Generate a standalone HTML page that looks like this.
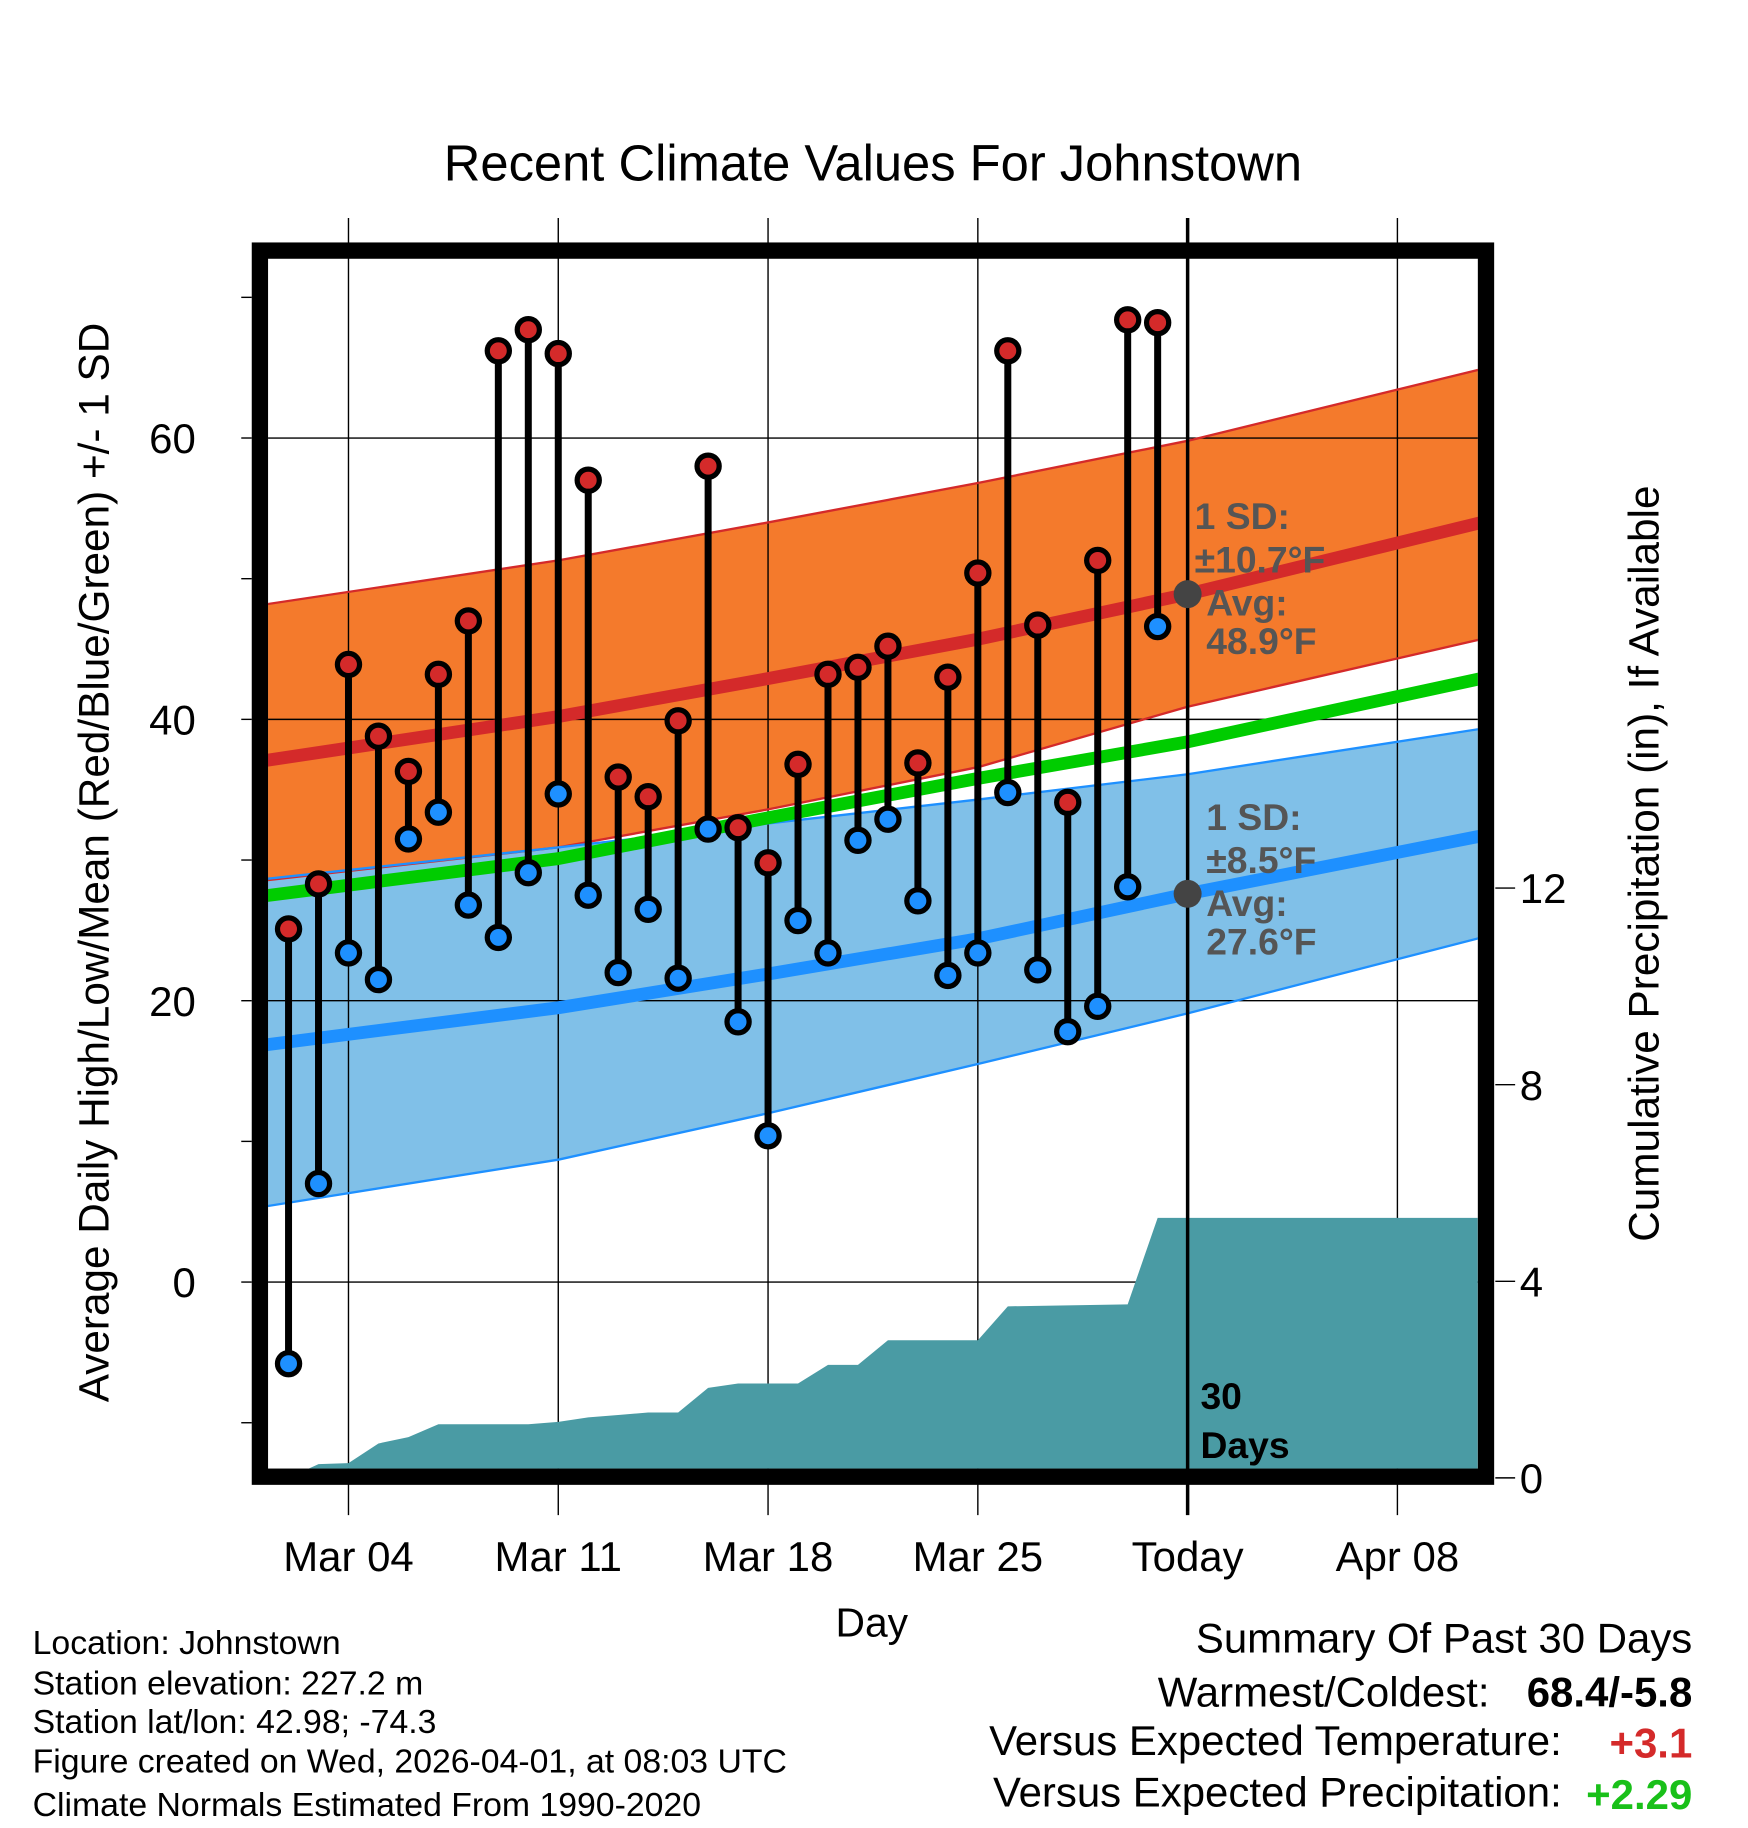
<!DOCTYPE html>
<html><head><meta charset="utf-8"><style>
html,body{margin:0;padding:0;background:#fff;}
svg{display:block;font-family:"Liberation Sans",Arial,sans-serif;}
</style></head><body>
<svg id="chart" width="1748" height="1828" viewBox="0 0 1499.8 1568.4" xmlns="http://www.w3.org/2000/svg">
<defs><clipPath id="pc"><rect x="230" y="222" width="1038" height="1038"/></clipPath></defs>
<g id="bands" clip-path="url(#pc)"></g>
<g id="grid"></g>
<g id="precip" clip-path="url(#pc)"></g>
<g id="lines" clip-path="url(#pc)"></g>
<g id="marks"></g>
<text x="749" y="155" text-anchor="middle" font-size="43.5">Recent Climate Values For Johnstown</text>
<g id="annot" font-weight="bold" font-size="32" fill="#555">
<text x="1025" y="454">1 SD:</text>
<text x="1025" y="491">±10.7°F</text>
<text x="1035" y="528">Avg:</text>
<text x="1035" y="561">48.9°F</text>
<text x="1035" y="712">1 SD:</text>
<text x="1035" y="749">±8.5°F</text>
<text x="1035" y="786">Avg:</text>
<text x="1035" y="819">27.6°F</text>
<text x="1030" y="1209" fill="#000">30</text>
<text x="1030" y="1251" fill="#000">Days</text>
</g>
<rect x="223" y="215" width="1052" height="1052" fill="none" stroke="#000" stroke-width="14"/>
<g id="axes" font-size="36"></g>
<text transform="translate(93,740) rotate(-90)" text-anchor="middle" font-size="36.3">Average Daily High/Low/Mean (Red/Blue/Green) +/- 1 SD</text>
<text transform="translate(1423,741) rotate(-90)" text-anchor="middle" font-size="36.3">Cumulative Precipitation (in), If Available</text>
<text x="748" y="1404" text-anchor="middle" font-size="35">Day</text>
<g font-size="29">
<text x="28" y="1419">Location: Johnstown</text>
<text x="28" y="1454">Station elevation: 227.2 m</text>
<text x="28" y="1487">Station lat/lon: 42.98; -74.3</text>
<text x="28" y="1521">Figure created on Wed, 2026-04-01, at 08:03 UTC</text>
<text x="28" y="1558">Climate Normals Estimated From 1990-2020</text>
</g>
<g font-size="36" text-anchor="end">
<text x="1452" y="1418">Summary Of Past 30 Days</text>
<text x="1278" y="1464">Warmest/Coldest:</text>
<text x="1452" y="1464" font-weight="bold">68.4/-5.8</text>
<text x="1340" y="1506">Versus Expected Temperature:</text>
<text x="1452" y="1508" font-weight="bold" fill="#d42a2a">+3.1</text>
<text x="1340" y="1550">Versus Expected Precipitation:</text>
<text x="1452" y="1552" font-weight="bold" fill="#19c019">+2.29</text>
</g>
</svg>
<script>
const days=[1,2,3,4,5,6,7,8,9,10,11,12,13,14,15,16,17,18,19,20,21,22,23,24,25,26,27,28,29,30];
const highs=[25.1,28.3,43.9,38.8,36.3,43.2,47.0,66.2,67.7,66.0,57.0,35.9,34.5,39.9,58.0,32.3,29.8,36.8,43.2,43.7,45.2,36.9,43.0,50.4,66.2,46.7,34.1,51.3,68.4,68.2];
const lows=[-5.8,7.0,23.4,21.5,31.5,33.4,26.8,24.5,29.1,34.7,27.5,22.0,26.5,21.6,32.2,18.5,10.4,25.7,23.4,31.4,32.9,27.1,21.8,23.4,34.8,22.2,17.8,19.6,28.1,46.6];
const precip=[0,0.28,0.30,0.70,0.83,1.09,1.09,1.09,1.09,1.14,1.23,1.28,1.33,1.33,1.83,1.92,1.92,1.92,2.30,2.30,2.80,2.80,2.80,2.80,3.49,3.50,3.51,3.52,3.53,5.29];
const normDays=[0,10,17,24,31,41];
const highMean=[37.0,40.2,42.9,45.7,48.9,54.1];
const highUpper=[48.1,51.3,54.0,56.8,59.8,65.0];
const highLower=[28.5,30.9,33.6,36.6,40.9,45.8];
const lowMean=[16.8,19.5,21.9,24.4,27.6,31.8];
const lowUpper=[28.6,30.9,32.6,34.3,36.1,39.4];
const lowLower=[5.3,8.7,12.0,15.5,19.1,24.6];
const greenMean=[27.4,30.1,33.0,35.8,38.4,43.0];
const tempTicks=[0,20,40,60];
const minorTicks=[-10,10,30,50,70];
const precipTicks=[0,4,8,12];
const xTickDays=[3,10,17,24,31,38];
const xTickLabels=["Mar 04","Mar 11","Mar 18","Mar 25","Today","Apr 08"];
const todayDay=31, todayHigh=48.9, todayLow=27.6;

const NS="http://www.w3.org/2000/svg";
const X=t=>299+(t-3)*25.714;
const Y=v=>1100-v*12.07;
const P=p=>1268-p*42.17;
const X0=230,X1=1268,Y0=222,Y1=1260;
function el(tag,attrs,parent){const e=document.createElementNS(NS,tag);for(const k in attrs)e.setAttribute(k,attrs[k]);parent.appendChild(e);return e;}
function pts(arr){return normDays.map((d,i)=>X(d)+","+Y(arr[i]));}
const bands=document.getElementById('bands'),grid=document.getElementById('grid'),pr=document.getElementById('precip'),lines=document.getElementById('lines'),marks=document.getElementById('marks'),axes=document.getElementById('axes');

let hb=el('polygon',{points:pts(highUpper).concat(pts(highLower).reverse()).join(' '),fill:'#f47a2c'},bands);

let lb=el('polygon',{points:pts(lowUpper).concat(pts(lowLower).reverse()).join(' '),fill:'#80c0e8'},bands);


tempTicks.forEach(v=>{let l=el('line',{x1:X0,x2:X1,y1:Y(v),y2:Y(v),stroke:'#000','stroke-width':1.2},grid);});
xTickDays.forEach(d=>{if(d===todayDay)return;let l=el('line',{x1:X(d),x2:X(d),y1:187,y2:1300,stroke:'#000','stroke-width':1.2},grid);});

let pp=[X(days[0])+','+P(0)];
days.forEach((d,i)=>pp.push(X(d)+','+P(precip[i])));
pp.push(X1+','+P(precip[precip.length-1]));pp.push(X1+','+P(0));
let pa=el('polygon',{points:pp.join(' '),fill:'#4a9ba4'},pr);


function pl(arr,c,w,name){let p=el('polyline',{points:pts(arr).join(' '),fill:'none',stroke:c,'stroke-width':w,'stroke-linejoin':'round'},lines);}
pl(highUpper,'#d42a2a',2,'high-upper-edge');pl(highLower,'#d42a2a',2,'high-lower-edge');
pl(lowUpper,'#1e90ff',2,'low-upper-edge');pl(lowLower,'#1e90ff',2,'low-lower-edge');
pl(highMean,'#d42a2a',11,'high-mean-line');
pl(greenMean,'#00cc00',11,'mean-line');
pl(lowMean,'#1e90ff',11,'low-mean-line');

let tl=el('line',{x1:X(todayDay),x2:X(todayDay),y1:187,y2:1300,stroke:'#000','stroke-width':3},marks);

let d1=el('circle',{cx:X(todayDay),cy:Y(todayHigh),r:12,fill:'#444'},marks);

let d2=el('circle',{cx:X(todayDay),cy:Y(todayLow),r:12,fill:'#444'},marks);


days.forEach((d,i)=>{
 let s=el('line',{x1:X(d),x2:X(d),y1:Y(highs[i]),y2:Y(lows[i]),stroke:'#000','stroke-width':6},marks);
 
});
days.forEach((d,i)=>{
 let h=el('circle',{cx:X(d),cy:Y(highs[i]),r:9.5,fill:'#d42a2a',stroke:'#000','stroke-width':4.5},marks);
 
 let l=el('circle',{cx:X(d),cy:Y(lows[i]),r:9.5,fill:'#1e90ff',stroke:'#000','stroke-width':4.5},marks);
 
});

tempTicks.forEach(v=>{let t=el('text',{x:168,y:Y(v)+13,'text-anchor':'end'},axes);t.textContent=v;
 let k=el('line',{x1:207,x2:216,y1:Y(v),y2:Y(v),stroke:'#000','stroke-width':1.2},axes);});
minorTicks.forEach(v=>{let k=el('line',{x1:207,x2:216,y1:Y(v),y2:Y(v),stroke:'#000','stroke-width':1.2},axes);});
precipTicks.forEach(v=>{let t=el('text',{x:1304,y:P(v)+13},axes);t.textContent=v;
 let k=el('line',{x1:1283,x2:1300,y1:P(v),y2:P(v),stroke:'#000','stroke-width':1.2},axes);});
xTickDays.forEach((d,i)=>{let t=el('text',{x:X(d),y:1348,'text-anchor':'middle'},axes);t.textContent=xTickLabels[i];});
</script>
</body></html>
